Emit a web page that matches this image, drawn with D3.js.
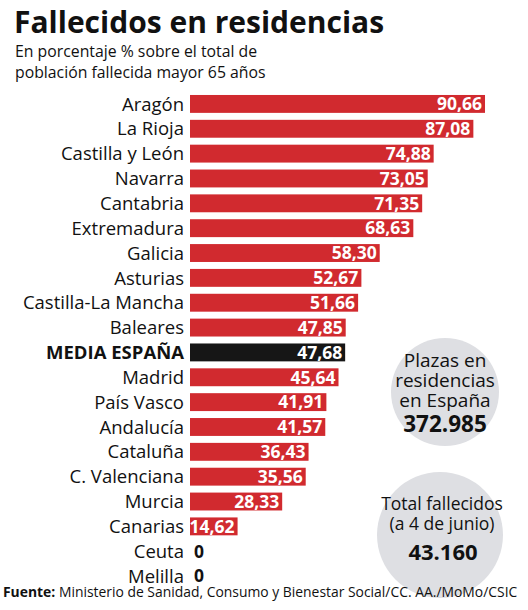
<!DOCTYPE html>
<html>
<head>
<meta charset="utf-8">
<script src="https://cdn.jsdelivr.net/npm/d3@7"></script>
<style>
  html, body { margin: 0; padding: 0; background: #fff; }
  svg { display: block; }
  text { font-family: "Open Sans", "Noto Sans", sans-serif; }
</style>
</head>
<body>
<svg id="chart" width="528" height="610"></svg>
<script>
const categories = ["Aragón","La Rioja","Castilla y León","Navarra","Cantabria","Extremadura","Galicia","Asturias","Castilla-La Mancha","Baleares","MEDIA ESPAÑA","Madrid","País Vasco","Andalucía","Cataluña","C. Valenciana","Murcia","Canarias","Ceuta","Melilla"];
const values = [90.66,87.08,74.88,73.05,71.35,68.63,58.30,52.67,51.66,47.85,47.68,45.64,41.91,41.57,36.43,35.56,28.33,14.62,0,0];
const highlight = "MEDIA ESPAÑA";
const titleText = "Fallecidos en residencias";
const subtitleLines = ["En porcentaje % sobre el total de","población fallecida mayor 65 años"];
const circle1Lines = ["Plazas en","residencias","en España"];
const circle1Value = "372.985";
const circle2Lines = ["Total fallecidos","(a 4 de junio)"];
const circle2Value = "43.160";
const sourceBold = "Fuente:";
const sourceText = " Ministerio de Sanidad, Consumo y Bienestar Social/CC. AA./MoMo/CSIC";

const fmt = v => v === 0 ? "0" : v.toFixed(2).replace(".", ",");

const svg = d3.select("#chart");
const RED = "#d12a2f", BLACK = "#161616", GREY = "#dedfe3";

// Title & subtitle
svg.append("text").attr("x", 14).attr("y", 33)
  .attr("font-size", 30).attr("font-weight", 700).attr("fill", "#111")
  .text(titleText);
svg.selectAll(".sub").data(subtitleLines).join("text")
  .attr("x", 15).attr("y", (d, i) => 57 + i * 21)
  .attr("font-size", 15.8).attr("fill", "#111").text(d => d);

// Circles
svg.append("circle").attr("cx", 445).attr("cy", 392).attr("r", 54).attr("fill", GREY);
svg.append("circle").attr("cx", 440).attr("cy", 535).attr("r", 63).attr("fill", GREY);

const c1 = svg.append("g");
c1.selectAll("text.l").data(circle1Lines).join("text")
  .attr("x", 445).attr("y", (d, i) => 367 + i * 20)
  .attr("text-anchor", "middle").attr("font-size", 19).attr("fill", "#111").text(d => d);
c1.append("text").attr("x", 445).attr("y", 432).attr("text-anchor", "middle")
  .attr("font-size", 22.5).attr("font-weight", 700).attr("fill", "#111").text(circle1Value);

const c2 = svg.append("g");
c2.selectAll("text.l").data(circle2Lines).join("text")
  .attr("x", 442).attr("y", (d, i) => 510 + i * 20)
  .attr("text-anchor", "middle").attr("font-size", 17.5).attr("fill", "#111").text(d => d);
c2.append("text").attr("x", 443).attr("y", 560).attr("text-anchor", "middle")
  .attr("font-size", 22).attr("font-weight", 700).attr("fill", "#111").text(circle2Value);

// Scales
const y = d3.scaleBand().domain(categories).range([91.5, 588.5]).paddingInner(0.28).paddingOuter(0.14);
const x = d3.scaleLinear().domain([0, 100]).range([190, 515.4]);

const rows = svg.append("g").selectAll("g").data(categories.map((c, i) => ({c, v: values[i]}))).join("g");

rows.append("rect")
  .attr("x", x(0)).attr("y", d => y(d.c))
  .attr("width", d => x(d.v) - x(0)).attr("height", y.bandwidth())
  .attr("fill", d => d.c === highlight ? BLACK : RED);

rows.append("text")
  .attr("x", x(0) - 6).attr("y", d => y(d.c) + y.bandwidth() / 2)
  .attr("dy", "0.36em").attr("text-anchor", "end")
  .attr("font-size", 18.5).attr("font-weight", d => d.c === highlight ? 700 : 400)
  .attr("fill", "#111").text(d => d.c);

rows.append("text")
  .attr("x", d => d.v === 0 ? x(0) + 4 : x(d.v) - 3)
  .attr("y", d => y(d.c) + y.bandwidth() / 2)
  .attr("dy", "0.36em").attr("text-anchor", d => d.v === 0 ? "start" : "end")
  .attr("font-size", 17.5).attr("font-weight", 700)
  .attr("fill", d => d.v === 0 ? "#111" : "#fff").text(d => fmt(d.v));

// Source
const src = svg.append("text").attr("x", 3).attr("y", 597).attr("font-size", 13.9).attr("fill", "#111");
src.append("tspan").attr("font-weight", 700).text(sourceBold);
src.append("tspan").text(sourceText);
</script>
</body>
</html>
